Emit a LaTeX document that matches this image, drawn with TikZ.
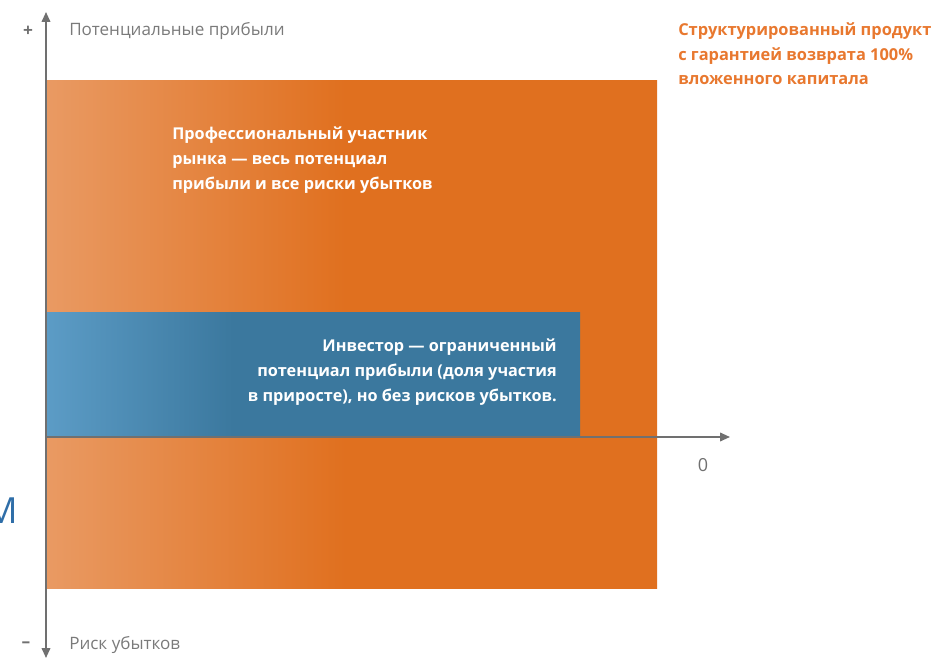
\documentclass[tikz,border=0pt]{standalone}
\usepackage{fontspec}
\setmainfont{Open Sans}
\usetikzlibrary{arrows.meta}
\definecolor{axisgray}{HTML}{707070}
\definecolor{labelgray}{HTML}{7A7A7A}
\definecolor{orlight}{HTML}{E99A63}
\definecolor{ordark}{HTML}{E0701F}
\definecolor{bllight}{HTML}{5C9CC6}
\definecolor{bldark}{HTML}{3B789E}
\definecolor{ortext}{HTML}{E8782F}
\definecolor{strayblue}{HTML}{2F6EA8}
% path box maps to 25bp..75bp
\pgfdeclarehorizontalshading{orgrad}{100bp}{color(0bp)=(orlight); color(25bp)=(orlight); color(49.5bp)=(ordark); color(100bp)=(ordark)}
\pgfdeclarehorizontalshading{blgrad}{100bp}{color(0bp)=(bllight); color(25bp)=(bllight); color(42.5bp)=(bldark); color(100bp)=(bldark)}
\tikzset{
  axisline/.style={draw=axisgray, line width=1.3pt, -{Triangle[width=6.5pt,length=7.5pt]}},
  graylabel/.style={text=labelgray, font=\fontsize{12.8}{15}\selectfont, inner sep=0pt, anchor=west},
  signlabel/.style={text=axisgray, font=\fontsize{13}{15}\selectfont\bfseries, inner sep=0pt},
  whitetext/.style={text=white, font=\fontsize{12.2}{18.6}\selectfont\bfseries, inner sep=0pt, align=left},
  orangetext/.style={text=ortext, font=\fontsize{12.3}{18.7}\selectfont\bfseries, inner sep=0pt, align=left, anchor=north west}
}
\begin{document}
\begin{tikzpicture}[x=0.75pt,y=-0.75pt]
\useasboundingbox (0,0) rectangle (933,659);
% orange block
\shade[shading=orgrad, draw=none] (46,81) rectangle (657,589);
% blue block
\shade[shading=blgrad, draw=none] (46,313) rectangle (580,437);
% axes
\coordinate (o) at (46,437);
\coordinate (ytop) at (46,12);
\coordinate (ybot) at (46,658);
\coordinate (xend) at (730,437);
\draw[axisline] (46,380) -- (ytop);
\draw[axisline] (46,380) -- (ybot);
\draw[axisline] (o) -- (xend);
% axis labels
\node[signlabel] (plus) at (28,31) {+};
\node[signlabel] (minus) at (26,645) {–};
\node[graylabel] (ptop) at (69,31) {Потенциальные прибыли};
\node[graylabel] (pbot) at (69,645) {Риск убытков};
\node[text=axisgray, font=\fontsize{13.5}{15}\selectfont, inner sep=0pt] (zero) at (703,465) {0};
% texts
\node[orangetext] (prod) at (678,22) {Структурированный продукт\\с гарантией возврата 100\%\\вложенного капитала};
\node[whitetext, anchor=north west] (prof) at (172,127) {Профессиональный участник\\рынка — весь потенциал\\прибыли и все риски убытков};
\node[whitetext, align=right, anchor=north east] (inv) at (557,339) {Инвестор — ограниченный\\потенциал прибыли (доля участия\\в приросте), но без рисков убытков.};
\node[text=strayblue, font=\fontsize{27}{30}\selectfont, inner sep=0pt, anchor=east] (m) at (18,511) {М};
\end{tikzpicture}
\end{document}
